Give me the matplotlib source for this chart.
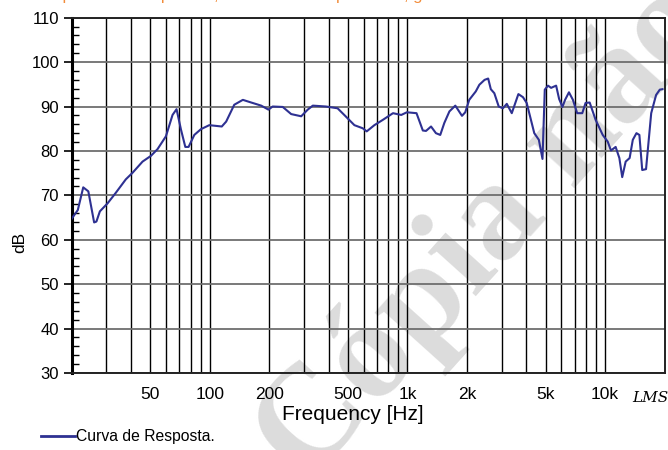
import matplotlib
matplotlib.use("Agg")
import matplotlib.pyplot as plt
from matplotlib.ticker import FixedLocator, NullFormatter

plt.rcParams["font.family"] = ["Liberation Sans", "DejaVu Sans"]
plt.rcParams["font.size"] = 12

freq = [20, 21.5, 22.9, 24.3, 26, 26.7, 27.8, 30.4, 33.5, 37.6, 40.7, 45.7, 50.4, 54.4,
        60, 64.8, 67.9, 71.5, 75.2, 78.1, 83.5, 90.2, 99.4, 115, 121, 133, 147, 162,
        182, 198, 208, 234, 258, 290, 313, 332, 387, 443, 479, 539, 594, 622, 680,
        751, 845, 930, 993, 1111, 1196, 1241, 1316, 1393, 1465, 1536, 1630, 1746,
        1887, 1960, 2053, 2216, 2310, 2455, 2560, 2640, 2750, 2895, 3040, 3180, 3370,
        3640, 3840, 4010, 4380, 4620, 4820, 4950, 5140, 5330, 5450, 5650, 5850, 6080,
        6270, 6560, 6870, 7220, 7660, 7960, 8350, 8950, 9720, 10300, 10700, 11300,
        11800, 12200, 12700, 13300, 13800, 14400, 14900, 15400, 16100, 17100, 18100,
        18900, 19500]
db = [64.7, 66.7, 71.8, 70.9, 63.9, 64.1, 66.4, 68.2, 70.6, 73.6, 75.1, 77.6, 78.9, 80.4,
      83.3, 88.1, 89.4, 84.8, 80.9, 80.9, 83.6, 84.9, 85.8, 85.5, 86.6, 90.4, 91.5, 90.9,
      90.2, 89.3, 90.0, 89.9, 88.3, 87.8, 89.3, 90.2, 90.0, 89.6, 88.1, 85.8, 85.1, 84.4,
      85.8, 87.0, 88.5, 88.1, 88.7, 88.5, 84.6, 84.5, 85.5, 84.0, 83.6, 86.3, 88.9, 90.2,
      87.9, 88.7, 91.5, 93.4, 94.9, 96.0, 96.3, 93.9, 93.0, 90.0, 89.6, 90.6, 88.5,
      92.8, 92.1, 90.8, 84.0, 82.5, 78.2, 93.8, 94.7, 94.2, 94.4, 94.7, 91.7, 89.9,
      91.5, 93.2, 91.5, 88.5, 88.5, 90.8, 90.9, 87.0, 83.6, 82.1, 80.1, 80.9,
      78.4, 74.1, 77.6, 78.4, 82.5, 84.0, 83.6, 75.7, 75.9, 88.5, 92.6,
      93.8, 93.9]

label_freqs = [50, 100, 200, 500, 1000, 2000, 5000, 10000]
label_texts = ["50", "100", "200", "500", "1k", "2k", "5k", "10k"]
grid_freqs = [30, 40, 50, 60, 70, 80, 90, 100, 200, 300, 400, 500, 600, 700, 800, 900,
              1000, 2000, 3000, 4000, 5000, 6000, 7000, 8000, 9000, 10000]
y_ticks = [30, 40, 50, 60, 70, 80, 90, 100, 110]

fig = plt.figure(figsize=(6.68, 4.5), dpi=100)

# watermark behind everything
fig.text(0.459, -0.079, "Cópia não controlada", family="Liberation Serif", fontweight="bold",
         fontsize=102, color="#dcdcdc", rotation=48, rotation_mode="anchor",
         ha="left", va="baseline", zorder=0)

ax = fig.add_axes([0.1072, 0.1711, 0.8878, 0.7896])
ax.set_facecolor("none")
ax.set_zorder(1)

ax.plot(freq, db, color="#2e3192", linewidth=1.5, zorder=3)

ax.set_xscale("log")
ax.set_xlim(20, 20000)
ax.set_ylim(30, 110)

ax.xaxis.set_major_locator(FixedLocator(label_freqs))
ax.set_xticklabels(label_texts)
ax.xaxis.set_minor_formatter(NullFormatter())
ax.tick_params(axis="x", which="both", length=0, pad=10, labelsize=12.5)
# vertical grid lines at every 1-9 step of each decade
for g in grid_freqs:
    ax.axvline(g, color="black", linewidth=1.0, zorder=1)

ax.set_yticks(y_ticks)
ax.yaxis.set_minor_locator(FixedLocator(range(30, 111, 2)))
ax.tick_params(axis="y", which="major", direction="out", length=6, width=1.2, pad=3, labelsize=12)
ax.tick_params(axis="y", which="minor", direction="in", length=5, width=1.0)
ax.grid(axis="y", which="major", color="#6e6e6e", linewidth=1.3)

for side in ["top", "right", "bottom"]:
    ax.spines[side].set_linewidth(1.4)
    ax.spines[side].set_color("#222222")
ax.spines["left"].set_linewidth(2.2)

fig.text(0.528, 0.08, "Frequency [Hz]", ha="center", va="center", fontsize=15)
fig.text(0.03, 0.462, "dB", ha="center", va="center", rotation=90, fontsize=12.5)
fig.text(0.973, 0.115, "LMS", ha="center", va="center", fontsize=11,
         family="DejaVu Serif", style="italic")

# legend line + text
fig.lines.append(plt.Line2D([0.062, 0.112], [0.031, 0.031], transform=fig.transFigure,
                            color="#2e3192", linewidth=2))
fig.text(0.114, 0.031, "Curva de Resposta.", ha="left", va="center", fontsize=11.3)

# top title cut off by the figure edge
fig.text(0.40, 1.001, "Resposta em frequência, 1 W / 1 m  ·  impedância, graus / fase",
         ha="center", va="baseline", fontsize=12, color="#f28c3a")

fig.savefig("out.png", dpi=100, facecolor="white")
